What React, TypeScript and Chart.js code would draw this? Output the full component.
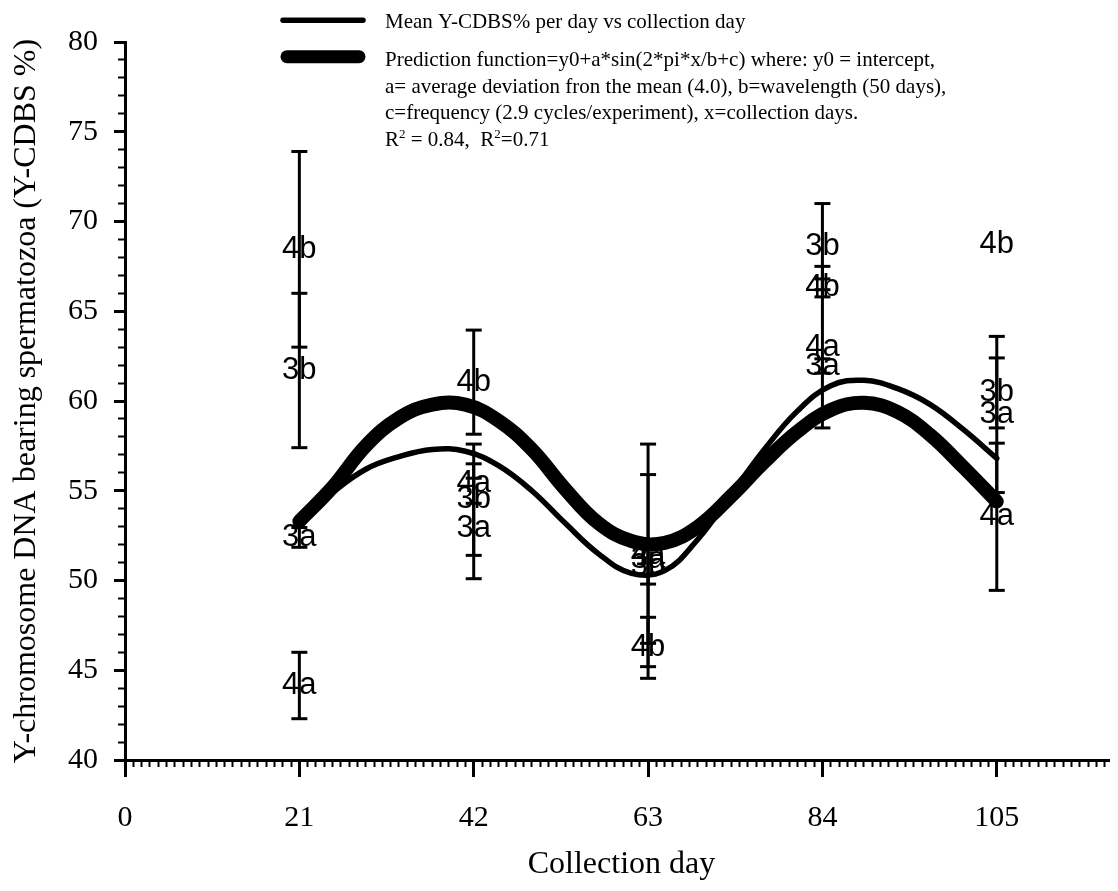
import { useEffect, useRef } from 'react';
import { Chart, registerables } from 'chart.js';

Chart.register(...registerables);

// Collection days and axis ticks
const collectionDays = [21, 42, 63, 84, 105];
const xTickLabels = [0, 21, 42, 63, 84, 105];
const yTickLabels = [40, 45, 50, 55, 60, 65, 70, 75, 80];

// Group means and standard deviations of Y-CDBS % per collection day
const groupNames = ['3a', '3b', '4a', '4b'];
const mean3a = [52.4, 52.9, 51.2, 61.95, 59.25];
const sd3a = [0.55, 2.8, 4.7, 0.4, 4.35];
const mean3b = [61.7, 54.5, 50.8, 68.6, 60.45];
const sd3b = [4.3, 3.1, 1.0, 2.4, 1.95];
const mean4a = [44.15, 55.4, 51.4, 63.0, 53.55];
const sd4a = [1.85, 1.1, 6.2, 4.5, 4.1];
const mean4b = [68.45, 61.05, 46.25, 66.3, 68.7];
const sd4b = [5.45, 2.9, 1.7, 0.5, 0];

// Smoothed curves sampled every 4 days along the collection period
const curveDays = [21, 25, 29, 33, 37, 41, 45, 49, 53, 57, 61, 65, 69, 73, 77, 81, 85, 89, 93, 97, 101, 105];
const meanCurve = [53.3, 54.9, 56.2, 56.9, 57.3, 57.2, 56.4, 55.0, 53.2, 51.5, 50.4, 50.55, 52.3, 54.8, 57.3, 59.45, 60.85, 61.15, 60.7, 59.8, 58.4, 56.8];
const predictionCurve = [53.3, 55.2, 57.5, 59.05, 59.8, 59.8, 58.9, 57.3, 55.1, 53.2, 52.2, 52.1, 53.0, 54.7, 56.6, 58.3, 59.5, 59.9, 59.4, 58.1, 56.3, 54.4];

// Key text
const meanKeyText = 'Mean Y-CDBS% per day vs collection day';
const predictionKeyLines = [
  'Prediction function=y0+a*sin(2*pi*x/b+c) where: y0 = intercept,',
  'a= average deviation fron the mean (4.0), b=wavelength (50 days),',
  'c=frequency (2.9 cycles/experiment), x=collection days.',
];
const rSquared = ['0.84', '0.71'];

const groupMeans = [mean3a, mean3b, mean4a, mean4b];
const groupSds = [sd3a, sd3b, sd4a, sd4b];

const SERIF = '"Liberation Serif", "Times New Roman", serif';
const SANS = '"Liberation Sans", Arial, sans-serif';

function curvePoints(values: number[]) {
  return curveDays.map((d, i) => ({ x: d, y: values[i] }));
}

function errorBarPoints(means: number[], sds: number[]) {
  const pts: { x: number; y: number | null }[] = [];
  collectionDays.forEach((d, i) => {
    if (sds[i] > 0) {
      pts.push({ x: d, y: means[i] - sds[i] });
      pts.push({ x: d, y: means[i] + sds[i] });
    }
    pts.push({ x: d, y: null });
  });
  return pts;
}

const groupLabelPlugin = {
  id: 'groupLabels',
  afterDatasetsDraw(chart: any) {
    const ctx = chart.ctx;
    ctx.save();
    ctx.font = `31px ${SANS}`;
    ctx.fillStyle = '#000';
    ctx.textAlign = 'center';
    ctx.textBaseline = 'middle';
    chart.data.datasets.forEach((ds: any, i: number) => {
      if (!ds.groupName) return;
      const meta = chart.getDatasetMeta(i);
      meta.data.forEach((el: any) => ctx.fillText(ds.groupName, el.x, el.y));
    });
    ctx.restore();
  },
};

const seriesKeyPlugin = {
  id: 'seriesKey',
  afterDraw(chart: any) {
    const ctx = chart.ctx;
    const thick = chart.data.datasets[0];
    const thin = chart.data.datasets[1];
    ctx.save();
    ctx.strokeStyle = thin.borderColor;
    ctx.fillStyle = '#000';
    ctx.lineCap = 'round';

    ctx.lineWidth = thin.borderWidth;
    ctx.beginPath();
    ctx.moveTo(275, 12.3);
    ctx.lineTo(355, 12.3);
    ctx.stroke();

    ctx.strokeStyle = thick.borderColor;
    ctx.lineWidth = 13;
    ctx.beginPath();
    ctx.moveTo(279, 48.7);
    ctx.lineTo(351, 48.7);
    ctx.stroke();

    const tx = 377;
    ctx.textAlign = 'left';
    ctx.textBaseline = 'alphabetic';
    ctx.font = `21px ${SERIF}`;
    ctx.fillText(meanKeyText, tx, 20.3);
    const baselines = [57.7, 84.5, 111.2];
    predictionKeyLines.forEach((t, i) => ctx.fillText(t, tx, baselines[i]));

    // R² line with raised exponents
    const y = 138;
    let x = tx;
    const big = `21px ${SERIF}`;
    const small = `13px ${SERIF}`;
    const parts: [string, boolean][] = [
      ['R', false], ['2', true], [` = ${rSquared[0]},  R`, false], ['2', true], [`=${rSquared[1]}`, false],
    ];
    parts.forEach(([t, sup]) => {
      ctx.font = sup ? small : big;
      ctx.fillText(t, x, sup ? y - 8 : y);
      x += ctx.measureText(t).width;
    });
    ctx.restore();
  },
};

export default function App() {
  const ref = useRef<HTMLCanvasElement>(null);

  useEffect(() => {
    const canvas = ref.current;
    if (!canvas) return;

    const datasets: any[] = [
      {
        label: 'Prediction function',
        data: curvePoints(predictionCurve),
        borderColor: '#000',
        borderWidth: 14,
        borderCapStyle: 'round',
        borderJoinStyle: 'round',
        tension: 0.4,
        pointRadius: 0,
        fill: false,
      },
      {
        label: 'Mean Y-CDBS% per day vs collection day',
        data: curvePoints(meanCurve),
        borderColor: '#000',
        borderWidth: 5.5,
        borderCapStyle: 'round',
        borderJoinStyle: 'round',
        tension: 0.4,
        pointRadius: 0,
        fill: false,
      },
    ];

    groupNames.forEach((g, gi) => {
      datasets.push({
        label: `${g} SD`,
        data: errorBarPoints(groupMeans[gi], groupSds[gi]),
        borderColor: '#000',
        borderWidth: 3,
        spanGaps: false,
        pointStyle: 'line',
        pointRadius: 8,
        pointBorderWidth: 3,
        pointBorderColor: '#000',
        pointHoverRadius: 8,
        fill: false,
      });
    });

    groupNames.forEach((g, gi) => {
      datasets.push({
        label: g,
        groupName: g,
        data: collectionDays.map((d, i) => ({ x: d, y: groupMeans[gi][i] })),
        showLine: false,
        pointRadius: 0,
        pointHoverRadius: 0,
      });
    });

    const isXMajor = (v: number) => xTickLabels.includes(v);
    const isYMajor = (v: number) => yTickLabels.includes(v);

    const chart = new Chart(canvas, {
      type: 'line',
      data: { datasets },
      options: {
        animation: false,
        responsive: false,
        maintainAspectRatio: false,
        devicePixelRatio: 1,
        events: [],
        layout: { autoPadding: false, padding: { top: 32, left: 0, right: 0, bottom: 0 } },
        plugins: {
          legend: { display: false },
          tooltip: { enabled: false },
          title: { display: false },
        },
        scales: {
          x: {
            type: 'linear',
            min: 0,
            max: 119.6,
            afterFit: (s: any) => {
              s.height = 123;
              s.paddingLeft = 0;
              s.paddingRight = 0;
            },
            border: { display: true, color: '#000', width: 3 },
            grid: {
              display: true,
              drawOnChartArea: false,
              drawTicks: true,
              tickLength: 17,
              tickColor: '#000',
              tickWidth: (c: any) => (c.tick && isXMajor(c.tick.value) ? 3 : 2),
              tickBorderDash: (c: any) => (c.tick && isXMajor(c.tick.value) ? [] : [5, 100]),
            },
            ticks: {
              stepSize: 1,
              autoSkip: false,
              includeBounds: false,
              maxRotation: 0,
              minRotation: 0,
              padding: 23,
              color: '#000',
              font: { family: SERIF, size: 30 },
              callback: (v: any) => (isXMajor(Number(v)) ? String(v) : ''),
            },
            title: {
              display: true,
              text: 'Collection day',
              color: '#000',
              font: { family: SERIF, size: 32, lineHeight: 1 },
              padding: { top: 0, bottom: 2 },
            },
          },
          y: {
            type: 'linear',
            min: 40,
            max: 80,
            afterFit: (s: any) => {
              s.width = 117;
            },
            border: { display: true, color: '#000', width: 3 },
            grid: {
              display: true,
              drawOnChartArea: false,
              drawTicks: true,
              tickLength: 11,
              tickColor: '#000',
              tickWidth: (c: any) => (c.tick && isYMajor(c.tick.value) ? 3 : 2),
              tickBorderDash: (c: any) => (c.tick && isYMajor(c.tick.value) ? [] : [0, 4, 6, 100]),
            },
            ticks: {
              stepSize: 1,
              autoSkip: false,
              padding: 16,
              color: '#000',
              font: { family: SERIF, size: 30 },
              callback: (v: any) => (isYMajor(Number(v)) ? String(v) : ''),
            },
            title: {
              display: true,
              text: 'Y-chromosome DNA bearing spermatozoa (Y-CDBS %)',
              color: '#000',
              font: { family: SERIF, size: 32, lineHeight: 1 },
              padding: { top: 3, bottom: 0 },
            },
          },
        },
      },
      plugins: [groupLabelPlugin, seriesKeyPlugin],
    } as any);

    return () => chart.destroy();
  }, []);

  return (
    <canvas
      ref={ref}
      width={1110}
      height={875}
      style={{ display: 'block', width: 1110, height: 875 }}
    />
  );
}
